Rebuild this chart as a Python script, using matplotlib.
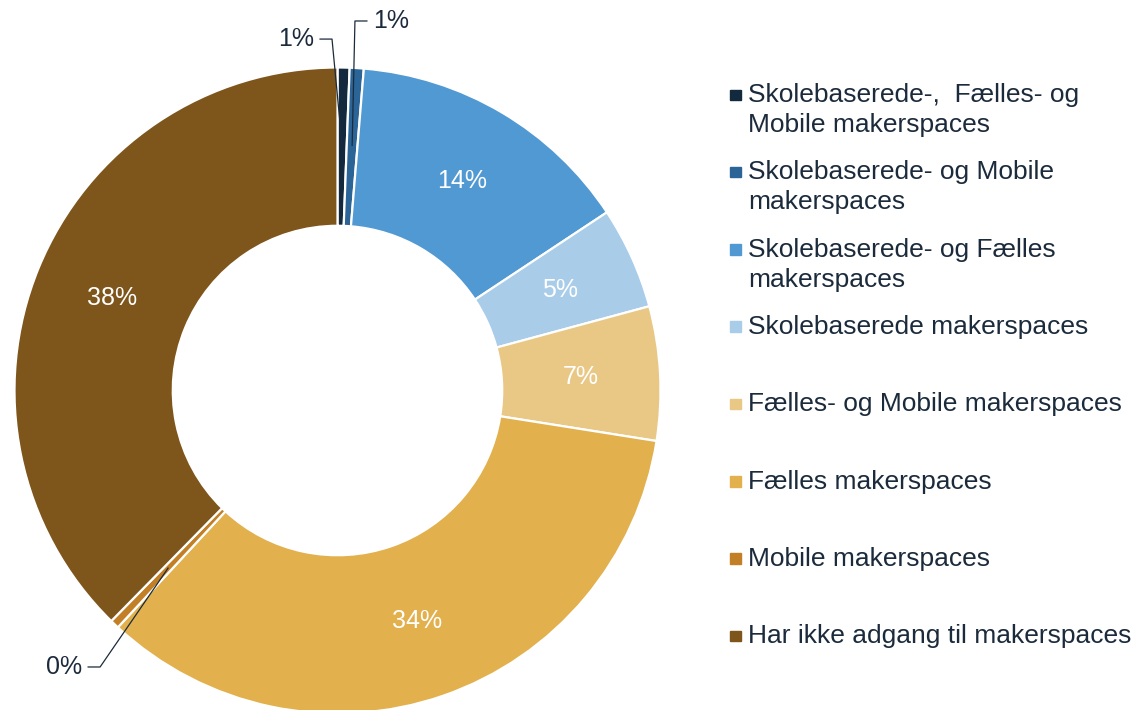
import matplotlib
matplotlib.use("Agg")
import matplotlib.pyplot as plt
from matplotlib.patches import Rectangle
import numpy as np

categories = [
    "Skolebaserede-,  Fælles- og\nMobile makerspaces",
    "Skolebaserede- og Mobile\nmakerspaces",
    "Skolebaserede- og Fælles\nmakerspaces",
    "Skolebaserede makerspaces",
    "Fælles- og Mobile makerspaces",
    "Fælles makerspaces",
    "Mobile makerspaces",
    "Har ikke adgang til makerspaces",
]
shares = [0.6, 0.7, 14.4, 5.1, 6.7, 34.4, 0.45, 37.65]
colors = ["#13293d", "#2b6598", "#5199d2", "#a9cce9",
          "#e9c886", "#e2b04c", "#c27f25", "#7e551a"]

TEXT = "#1b2b3c"
plt.rcParams["font.family"] = ["Liberation Sans", "DejaVu Sans"]

W, H = 1138, 710
fig = plt.figure(figsize=(W / 100, H / 100), dpi=100)

# pie axes placed so that centre/radius match the layout (pixels)
cx, cy, r = 337.5, 390.5, 323.0
ax = fig.add_axes([(cx - r) / W, (H - cy - r) / H, 2 * r / W, 2 * r / H])

wedges, _ = ax.pie(shares, colors=colors, startangle=90, counterclock=False,
                   radius=1.0, wedgeprops=dict(width=0.49, edgecolor="white", linewidth=1.6))
# pie() resets the limits, so set them afterwards
ax.set_xlim(-1, 1)
ax.set_ylim(-1, 1)
ax.set_aspect("equal")
ax.axis("off")

# label text (rounded shares) inside big slices, callouts for the tiny ones
callouts = {
    0: dict(elbow=(-0.017, 1.088), end=(-0.054, 1.088), ha="right"),
    1: dict(elbow=(0.054, 1.144), end=(0.091, 1.144), ha="left"),
    6: dict(elbow=(-0.735, -0.856), end=(-0.772, -0.856), ha="right"),
}
for i, (w, v) in enumerate(zip(wedges, shares)):
    mid = np.deg2rad((w.theta1 + w.theta2) / 2)
    label = f"{round(v):.0f}%"
    if i in callouts:
        c = callouts[i]
        px, py = 0.76 * np.cos(mid), 0.76 * np.sin(mid)
        ax.plot([px, c["elbow"][0], c["end"][0]], [py, c["elbow"][1], c["end"][1]],
                color=TEXT, lw=0.9, clip_on=False)
        dx = -0.018 if c["ha"] == "right" else 0.018
        ax.text(c["end"][0] + dx, c["end"][1], label, ha=c["ha"], va="center",
                fontsize=18, color=TEXT, clip_on=False)
    else:
        ax.text(0.755 * np.cos(mid), 0.755 * np.sin(mid), label, ha="center", va="center",
                fontsize=18, color="white")

# legend drawn by hand to match the spacing of the original
for i, (name, col) in enumerate(zip(categories, colors)):
    base = 102 + i * 77.3
    fig.add_artist(Rectangle(((730.5) / W, 1 - (base - 2) / H), 10.5 / W, 10.5 / H,
                             transform=fig.transFigure, color=col))
    for j, line in enumerate(name.split("\n")):
        fig.text(748 / W, 1 - (base + j * 30) / H, line, ha="left", va="baseline",
                 fontsize=19, color=TEXT)

fig.savefig("out.png", dpi=100)
